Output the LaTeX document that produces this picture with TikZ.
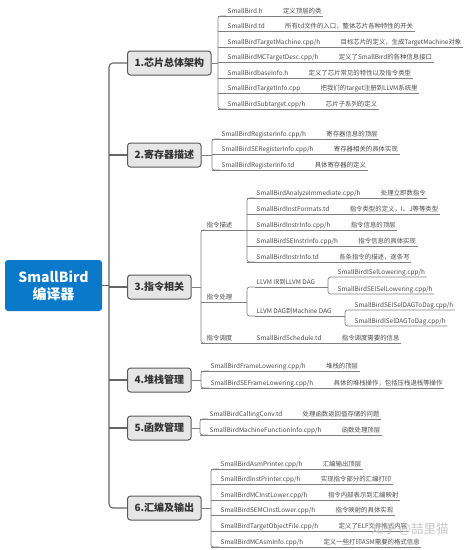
\documentclass[tikz,border=0pt]{standalone}
\usepackage{fontspec}
\setmainfont{Noto Sans CJK SC}
\usetikzlibrary{positioning}
\definecolor{birdblue}{HTML}{0B79C9}
\definecolor{topicgray}{HTML}{E6E6E6}

\begin{document}
\begin{tikzpicture}[x=1pt,y=-1pt,
  rootbox/.style={fill=birdblue,rounded corners=3pt,text=white,align=center,
    font=\fontsize{14}{17}\selectfont\bfseries,minimum width=97pt,minimum height=51pt},
  topic/.style={draw=black!65,fill=topicgray,line width=1pt,rounded corners=3pt,
    anchor=west,font=\fontsize{10}{12}\selectfont\bfseries,text=black!80,
    minimum height=24pt,inner xsep=7pt},
  fname/.style={anchor=south west,font=\fontsize{6.4}{7}\selectfont,text=black!70,
    inner xsep=1.5pt,inner ysep=1pt,text height=5pt,text depth=1.5pt},
  desc/.style={fname},
  mainline/.style={draw=black!60,line width=1.1pt},
  leaf/.style={draw=black!50,line width=0.65pt}
]
\fill[white] (0,0) rectangle (474,550);
\useasboundingbox (0,0) rectangle (474,550);

% root and trunk
\node[rootbox] (root) at (53.5,285.5) {SmallBird\\编译器};
\coordinate (trunk) at (109,285.5);
\node[topic] (t1) at (127,63) {1.芯片总体架构};
\node[topic] (t2) at (127,155) {2.寄存器描述};
\node[topic] (t3) at (127,287) {3.指令相关};
\node[topic] (t4) at (127,380) {4.堆栈管理};
\node[topic] (t5) at (127,428) {5.函数管理};
\node[topic] (t6) at (127,508) {6.汇编及输出};
\draw[mainline,rounded corners=4pt] (t1.west) -| (trunk) |- (t6.west);
\foreach \n in {2,...,5}
  \draw[mainline] (t\n.west) -- (t\n.west -| trunk);
\draw[mainline] (root.east) -- (trunk);

% 1. chip
\coordinate (b1) at (218,63);
\foreach \i/\f/\d/\y in {
  1/SmallBird.h/定义顶层的类/16,
  2/SmallBird.td/所有td文件的入口，整体芯片各种特性的开关/31.5,
  3/{SmallBirdTargetMachine.cpp/h}/目标芯片的定义，生成TargetMachine对象/47,
  4/{SmallBirdMCTargetDesc.cpp/h}/定义了SmallBird的各种信息接口/62.5,
  5/SmallBirdbaseInfo.h/定义了芯片常见的特性以及指令类型/78,
  6/SmallBirdTargetInfo.cpp/把我们的target注册到LLVM系统里/93.5,
  7/{SmallBirdSubtarget.cpp/h}/芯片子系列的定义/109}{
  \node[fname] (a\i) at (226,\y) {\f};
  \node[desc,right=17pt of a\i] (ad\i) {\d};
  \draw[leaf] (a\i.south west -| b1) -- (ad\i.south east);
}
\draw[leaf,rounded corners=2.5pt] (a1.south west) -| (b1) |- (a7.south west);
\draw[leaf] (t1.east) -- (b1);

% 2. registers
\coordinate (b2) at (212,155);
\foreach \i/\f/\d/\y in {
  1/{SmallBirdRegisterInfo.cpp/h}/寄存器信息的顶层/139,
  2/{SmallBirdSERegisterInfo.cpp/h}/寄存器相关的具体实现/154.5,
  3/SmallBirdRegisterInfo.td/具体寄存器的定义/170}{
  \node[fname] (r\i) at (220,\y) {\f};
  \node[desc,right=17pt of r\i] (rd\i) {\d};
  \draw[leaf] (r\i.south west -| b2) -- (rd\i.south east);
}
\draw[leaf,rounded corners=2.5pt] (r1.south west) -| (b2) |- (r3.south west);
\draw[leaf] (t2.east) -- (b2);

% 3. instructions
\coordinate (b3) at (201,287);
\node[fname] (c1) at (205,230) {指令描述};
\node[fname] (c2) at (205,302) {指令处理};
\node[fname] (c3) at (205,343) {指令调度};
\draw[leaf,rounded corners=2.5pt] (c1.south west) -| (b3) |- (c3.south west);
\draw[leaf] (t3.east) -- (b3);

\coordinate (b31) at (247,230);
\foreach \i/\f/\d/\y in {
  1/{SmallBirdAnalyzeImmediate.cpp/h}/处理立即数指令/198,
  2/SmallBirdInstFormats.td/指令类型的定义，I、J等等类型/214,
  3/{SmallBirdInstrInfo.cpp/h}/指令信息的顶层/230,
  4/{SmallBirdSEInstrInfo.cpp/h}/指令信息的具体实现/246,
  5/SmallBirdInstrInfo.td/各条指令的描述，逐条写/262}{
  \node[fname] (e\i) at (255,\y) {\f};
  \node[desc,right=17pt of e\i] (ed\i) {\d};
  \draw[leaf] (e\i.south west -| b31) -- (ed\i.south east);
}
\draw[leaf,rounded corners=2.5pt] (e1.south west) -| (b31) |- (e5.south west);
\draw[leaf] (c1.south west -| b3) -- (b31);

\coordinate (b32) at (247,302);
\node[fname] (p1) at (255,287) {LLVM IR到LLVM DAG};
\node[fname] (p2) at (255,316) {LLVM DAG到Machine DAG};
\draw[leaf,rounded corners=2.5pt] (p1.south west) -| (b32) |- (p2.south west);
\draw[leaf] (c2.south west -| b3) -- (b32);

\coordinate (b321) at (328,287);
\node[fname] (g1) at (336,277) {SmallBirdISelLowering.cpp/h};
\node[fname] (g2) at (336,294) {SmallBirdSEISelLowering.cpp/h};
\draw[leaf,rounded corners=2.5pt] (g1.south east) -- (g1.south west) -| (b321) |- (g2.south west) -- (g2.south east);
\draw[leaf] (p1.south west) -- (b321);

\coordinate (b322) at (345,316);
\node[fname] (h1) at (353,310) {SmallBirdSEISelDAGToDag.cpp/h};
\node[fname] (h2) at (353,326) {SmallBirdISelDAGToDag.cpp/h};
\draw[leaf,rounded corners=2.5pt] (h1.south east) -- (h1.south west) -| (b322) |- (h2.south west) -- (h2.south east);
\draw[leaf] (p2.south west) -- (b322);

\node[fname] (s1) at (255,343) {SmallBirdSchedule.td};
\node[desc,right=17pt of s1] (sd1) {指令调度需要的信息};
\draw[leaf] (c3.south west -| b3) -- (sd1.south east);

% 4. stack
\coordinate (b4) at (201,380);
\foreach \i/\f/\d/\y in {
  1/{SmallBirdFrameLowering.cpp/h}/堆栈的顶层/371,
  2/{SmallBirdSEFrameLowering.cpp/h}/具体的堆栈操作，包括压栈退栈等操作/388}{
  \node[fname] (k\i) at (209,\y) {\f};
  \node[desc,right=17pt of k\i] (kd\i) {\d};
  \draw[leaf] (k\i.south west -| b4) -- (kd\i.south east);
}
\draw[leaf,rounded corners=2.5pt] (k1.south west) -| (b4) |- (k2.south west);
\draw[leaf] (t4.east) -- (b4);

% 5. functions
\coordinate (b5) at (200,428);
\foreach \i/\f/\d/\y in {
  1/SmallBirdCallingConv.td/处理函数返回值存储的问题/419,
  2/{SmallBirdMachineFunctionInfo.cpp/h}/函数处理顶层/435}{
  \node[fname] (m\i) at (208,\y) {\f};
  \node[desc,right=17pt of m\i] (md\i) {\d};
  \draw[leaf] (m\i.south west -| b5) -- (md\i.south east);
}
\draw[leaf,rounded corners=2.5pt] (m1.south west) -| (b5) |- (m2.south west);
\draw[leaf] (t5.east) -- (b5);

% 6. asm output
\coordinate (b6) at (211,508);
\foreach \i/\f/\d/\y in {
  1/{SmallBirdAsmPrinter.cpp/h}/汇编输出顶层/469,
  2/{SmallBirdInstPrinter.cpp/h}/实现指令部分的汇编打印/484.5,
  3/{SmallBirdMCInstLower.cpp/h}/指令内部表示到汇编映射/500,
  4/{SmallBirdSEMCInstLower.cpp/h}/指令映射的具体实现/515.5,
  5/{SmallBirdTargetObjectFile.cpp/h}/定义了ELF文件格式内容/531,
  6/{SmallBirdMCAsmInfo.cpp/h}/定义一些打印ASM需要的格式信息/547}{
  \node[fname] (o\i) at (219,\y) {\f};
  \node[desc,right=17pt of o\i] (od\i) {\d};
  \draw[leaf] (o\i.south west -| b6) -- (od\i.south east);
}
\draw[leaf,rounded corners=2.5pt] (o1.south west) -| (b6) |- (o6.south west);
\draw[leaf] (t6.east) -- (b6);

\node[text=black!22,font=\fontsize{12.5}{14}\selectfont] (mark) at (410,529) {知乎 @喆里猫};
\end{tikzpicture}
\end{document}
